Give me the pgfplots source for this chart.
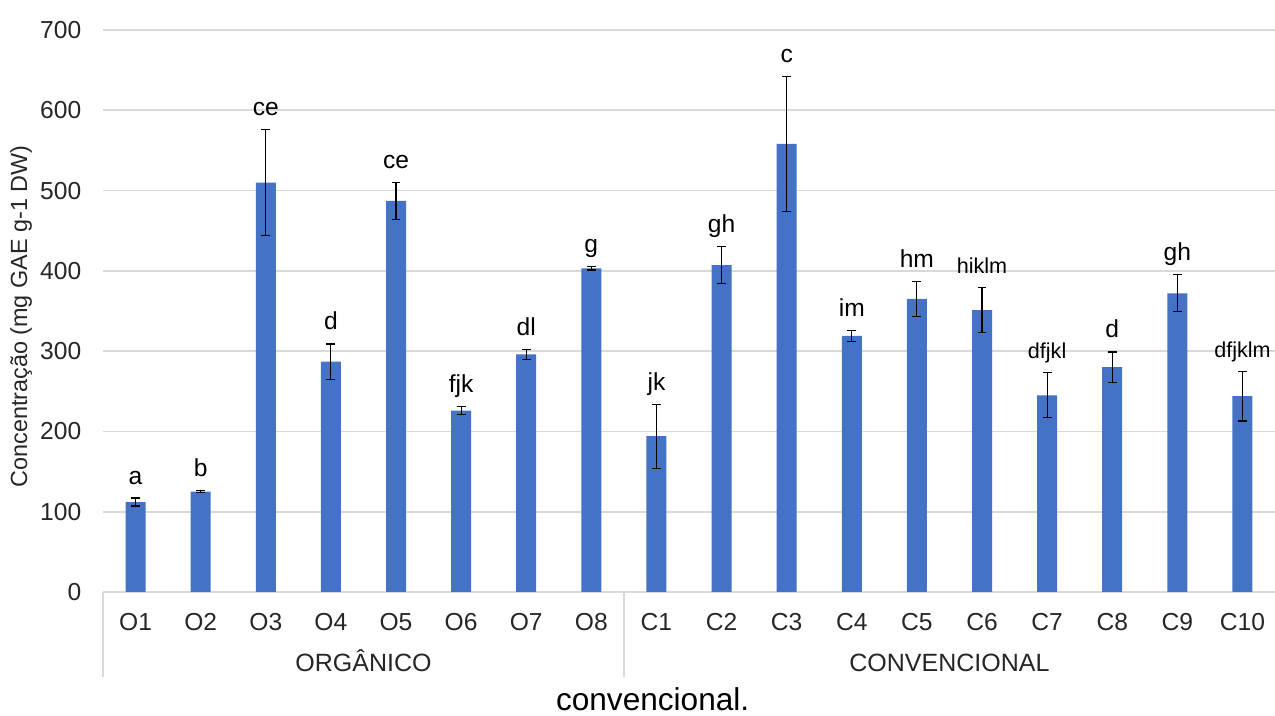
\documentclass[border=0pt]{standalone}
\usepackage{pgfplots}
\pgfplotsset{compat=1.18}
\usepackage{pgfplotstable}
\usepackage{fontspec}
\setmainfont{Liberation Sans}
\definecolor{barblue}{HTML}{4472C4}
\definecolor{gridgray}{HTML}{D9D9D9}
\newcommand\sml[1]{{\fontsize{10.8}{12}\selectfont #1}}

% mean, standard deviation and letter group of each sample
\pgfplotstableread{
x y err lab
0 112 5 a
1 125 1 b
2 510 66 ce
3 287 22 d
4 487 23 ce
5 226 5 fjk
6 296 6 dl
7 403 2 g
8 194 40 jk
9 407 23 gh
10 558 84 c
11 319 7 im
12 365 22 hm
13 351 28 \sml{hiklm}
14 245 28 \sml{dfjkl}
15 280 19 d
16 372 23 gh
17 244 31 \sml{dfjklm}
}\datatable

\begin{document}
\begin{tikzpicture}
\useasboundingbox (-51.5pt,-62pt) rectangle (586pt,296pt);
\begin{axis}[
  scale only axis, width=586pt, height=281pt,
  xmin=-0.5, xmax=17.5, ymin=0, ymax=700,
  axis lines*=left,
  y axis line style={draw=none},
  x axis line style={gridgray, line width=0.8pt},
  ytick={0,100,...,700},
  ymajorgrids, grid style={gridgray, line width=0.8pt},
  xtick={0,...,17},
  xticklabels={O1,O2,O3,O4,O5,O6,O7,O8,C1,C2,C3,C4,C5,C6,C7,C8,C9,C10},
  major tick length=0pt,
  tick label style={font=\fontsize{12.3}{14}\selectfont, text=black!85},
  /pgf/number format/assume math mode=true,
  yticklabel style={anchor=east, inner sep=0pt, xshift=-10.7pt},
  xticklabel style={anchor=north, inner sep=0pt, yshift=-10.5pt},
  ylabel={Concentração (mg GAE g-1 DW)},
  every axis y label/.style={at={(axis description cs:-0.0648,0.49)}, anchor=base, rotate=90, font=\fontsize{11.7}{14}\selectfont, text=black!85},
  clip=false,
]
\addplot[ybar, bar width=10pt, bar shift=0pt, fill=barblue, draw=none,
  error bars/.cd, y dir=both, y explicit,
  error bar style={black, line width=0.6pt},
  error mark options={rotate=90, mark size=2.2pt, line width=0.6pt, black}]
  table[x=x, y=y, y error=err] \datatable;
\addplot[draw=none, nodes near coords, point meta=explicit symbolic,
  nodes near coords style={anchor=base, yshift=7pt, inner sep=0pt, font=\fontsize{12.3}{14}\selectfont, text=black}]
  table[x=x, y expr=\thisrow{y}+\thisrow{err}, meta=lab] \datatable;
% group separators and group names
\draw[gridgray, line width=0.8pt] (axis cs:-0.5,0) -- ([yshift=-42.5pt]axis cs:-0.5,0);
\draw[gridgray, line width=0.8pt] (axis cs:7.5,0) -- ([yshift=-42.5pt]axis cs:7.5,0);
\node[anchor=base, inner sep=0pt, font=\fontsize{12.5}{14}\selectfont, text=black!85] at ([yshift=-39.8pt]axis cs:3.5,0) {ORGÂNICO};
\node[anchor=base, inner sep=0pt, font=\fontsize{12.5}{14}\selectfont, text=black!85] at ([yshift=-39.8pt]axis cs:12.5,0) {CONVENCIONAL};
\node[anchor=base, inner sep=0pt, font=\fontsize{15.8}{18}\selectfont] at ([yshift=-59.5pt]rel axis cs:0.469,0) {convencional.};
\end{axis}
\end{tikzpicture}
\end{document}
